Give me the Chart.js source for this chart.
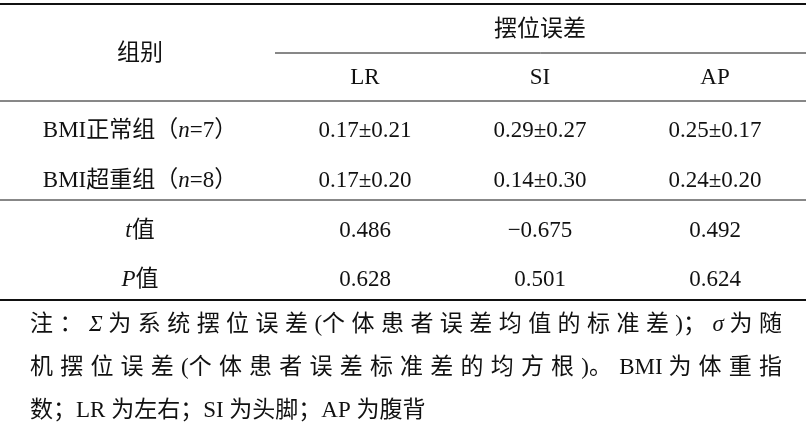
<!DOCTYPE html>
<html><head><meta charset="utf-8">
<script src="https://cdn.jsdelivr.net/npm/chart.js@4"></script>
<style>html,body{margin:0;background:#fff}#wrap{width:806px;height:446px}</style>
</head><body><div id="wrap"><canvas id="tbl"></canvas></div>
<script>
// table content
const spanHeader = '摆位误差';
const groupHeader = '组别';
const columns = ['LR', 'SI', 'AP'];
// each row label as segments [text, italic]
const rowLabels = [
    [['BMI正常组（', 0], ['n', 1], ['=7）', 0]],
    [['BMI超重组（', 0], ['n', 1], ['=8）', 0]],
    [['t', 1], ['值', 0]],
    [['P', 1], ['值', 0]]
];
const rowValues = [
    ['0.17±0.21', '0.29±0.27', '0.25±0.17'],
    ['0.17±0.20', '0.14±0.30', '0.24±0.20'],
    ['0.486', '−0.675', '0.492'],
    ['0.628', '0.501', '0.624']
];
const notes = [
    '注：Σ 为系统摆位误差(个体患者误差均值的标准差)；σ 为随',
    '机摆位误差(个体患者误差标准差的均方根)。BMI 为体重指',
    '数；LR 为左右；SI 为头脚；AP 为腹背'
];

const serif = '"Liberation Serif", "Noto Sans CJK SC", serif';
const FS = '23px ';
const colX = [140, 365, 540, 715];
const rowY = [131, 181, 231, 280];

function drawSegs(ctx, segs, cx, cy) {
    let total = 0;
    segs.forEach(s => { ctx.font = (s[1] ? 'italic ' : '') + FS + serif; total += ctx.measureText(s[0]).width; });
    let x = cx - total / 2;
    ctx.textAlign = 'left';
    segs.forEach(s => {
        ctx.font = (s[1] ? 'italic ' : '') + FS + serif;
        ctx.fillText(s[0], x, cy);
        x += ctx.measureText(s[0]).width;
    });
}

// spread extra space only after wide (CJK) characters
function drawJustified(ctx, text, x0, x1, y, justify) {
    const chars = Array.from(text);
    const fontOf = c => (c === 'Σ' || c === 'σ' ? 'italic ' : '') + FS + serif;
    const widths = chars.map(c => { ctx.font = fontOf(c); return ctx.measureText(c).width; });
    const total = widths.reduce((a, b) => a + b, 0);
    const wide = chars.map((c, i) => i < chars.length - 1 && c.charCodeAt(0) > 0x2000 && c !== '−');
    const n = wide.filter(Boolean).length;
    const gap = justify && n ? (x1 - x0 - total) / n : 0;
    let x = x0;
    chars.forEach((c, i) => {
        ctx.font = fontOf(c);
        ctx.fillText(c, x, y);
        x += widths[i] + (wide[i] ? gap : 0);
    });
}

const tablePlugin = {
    id: 'tablePlugin',
    afterDraw(chart) {
        const ctx = chart.ctx;
        const sx = chart.scales.x, sy = chart.scales.y;
        const px = v => sx.getPixelForValue(v), py = v => sy.getPixelForValue(v);
        ctx.save();
        ctx.fillStyle = '#111';
        ctx.strokeStyle = '#111';
        const hline = (y, a, b, w) => { ctx.lineWidth = w; ctx.beginPath(); ctx.moveTo(px(a), py(y)); ctx.lineTo(px(b), py(y)); ctx.stroke(); };
        hline(4, 0, 806, 2);
        hline(53, 275, 806, 1);
        hline(101, 0, 806, 1);
        hline(200, 0, 806, 1);
        hline(300, 0, 806, 2);
        ctx.textBaseline = 'middle';
        ctx.textAlign = 'center';
        ctx.font = FS + serif;
        ctx.fillText(groupHeader, px(colX[0]), py(54));
        ctx.fillText(spanHeader, px(540), py(30));
        columns.forEach((c, i) => ctx.fillText(c, px(colX[i + 1]), py(78)));
        rowLabels.forEach((segs, r) => {
            drawSegs(ctx, segs, px(colX[0]), py(rowY[r]));
            ctx.textAlign = 'center';
            ctx.font = FS + serif;
            rowValues[r].forEach((v, i) => ctx.fillText(v, px(colX[i + 1]), py(rowY[r])));
        });
        ctx.textAlign = 'left';
        notes.forEach((n, i) => drawJustified(ctx, n, px(30), px(782), py(325 + i * 43), i < 2));
        ctx.restore();
    }
};

new Chart(document.getElementById('tbl'), {
    type: 'scatter',
    data: { datasets: [{ data: [] }] },
    options: {
        responsive: true,
        maintainAspectRatio: false,
        animation: false,
        layout: { padding: 0 },
        plugins: { legend: { display: false }, tooltip: { enabled: false } },
        scales: {
            x: { type: 'linear', min: 0, max: 806, display: false },
            y: { type: 'linear', min: 0, max: 446, reverse: true, display: false }
        }
    },
    plugins: [tablePlugin]
});
</script>
</body></html>
